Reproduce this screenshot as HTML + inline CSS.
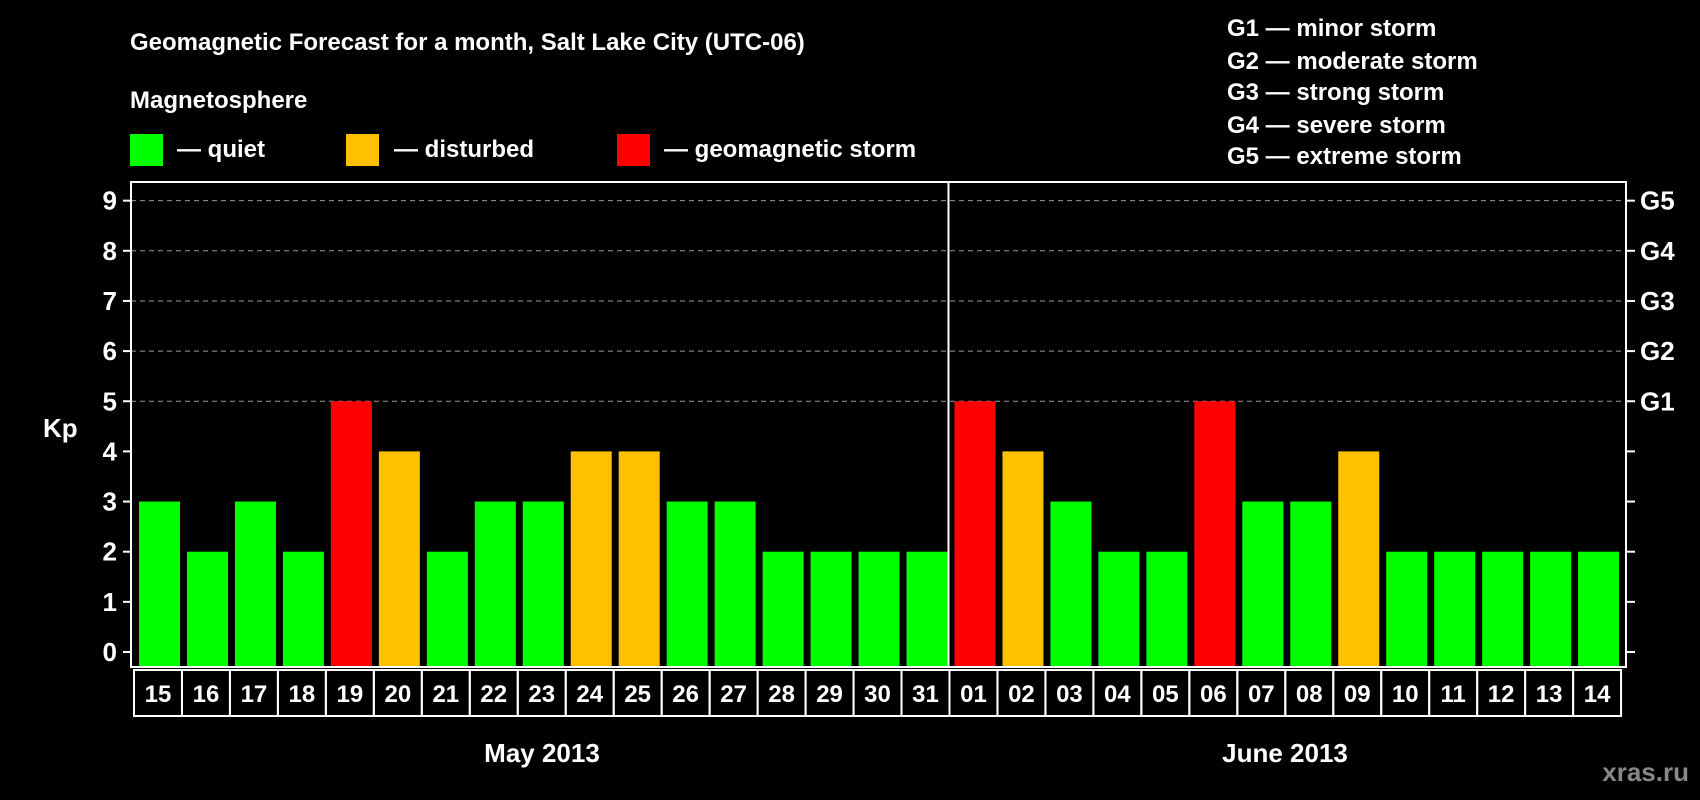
<!DOCTYPE html>
<html><head><meta charset="utf-8"><style>
html,body{margin:0;padding:0;background:#000;}
svg{display:block;font-family:"Liberation Sans",sans-serif;font-weight:bold;}
</style></head><body>
<svg id="chart" width="1700" height="800" viewBox="0 0 1700 800">
<rect x="0" y="0" width="1700" height="800" fill="#000"/>
<text x="130" y="50" fill="#fff" font-size="24">Geomagnetic Forecast for a month, Salt Lake City (UTC-06)</text>
<text x="130" y="108" fill="#fff" font-size="24">Magnetosphere</text>
<g><rect x="130" y="134" width="33" height="32" fill="#00ff00"/><text x="177" y="157" fill="#fff" font-size="24">— quiet</text></g>
<g><rect x="346" y="134" width="33" height="32" fill="#ffc000"/><text x="394" y="157" fill="#fff" font-size="24">— disturbed</text></g>
<g><rect x="617" y="134" width="33" height="32" fill="#ff0000"/><text x="664" y="157" fill="#fff" font-size="24">— geomagnetic storm</text></g>
<g font-size="24" fill="#fff">
<text x="1227" y="36">G1 — minor storm</text>
<text x="1227" y="69">G2 — moderate storm</text>
<text x="1227" y="100">G3 — strong storm</text>
<text x="1227" y="133">G4 — severe storm</text>
<text x="1227" y="164">G5 — extreme storm</text>
</g>
<g id="grid"></g>
<g id="bars"></g>
<rect x="131" y="182" width="1495" height="485" fill="none" stroke="#fff" stroke-width="2"/>
<g id="axes"></g>
<g id="xlabels"></g>
<text x="43" y="437" fill="#fff" font-size="26">Kp</text>
<text x="542" y="762" fill="#fff" font-size="26" text-anchor="middle">May 2013</text>
<text x="1285" y="762" fill="#fff" font-size="26" text-anchor="middle">June 2013</text>
<text x="1689" y="781" fill="#888" font-size="26" text-anchor="end">xras.ru</text>
</svg>
<script>
const days = ["15","16","17","18","19","20","21","22","23","24","25","26","27","28","29","30","31","01","02","03","04","05","06","07","08","09","10","11","12","13","14"];
const kpValues = [3,2,3,2,5,4,2,3,3,4,4,3,3,2,2,2,2,5,4,3,2,2,5,3,3,4,2,2,2,2,2];
const yTicks = [0,1,2,3,4,5,6,7,8,9];
const gLabels = ["G1","G2","G3","G4","G5"];
const gLevels = [5,6,7,8,9];
const monthBreakIndex = 17;

const NS = "http://www.w3.org/2000/svg";
const y = v => 652 - v * 50.15;
const x0 = 134, pitch = 47.97;
const xCell = i => x0 + i * pitch;
function mk(tag, attrs, parent) {
  const e = document.createElementNS(NS, tag);
  for (const k in attrs) e.setAttribute(k, attrs[k]);
  parent.appendChild(e);
  return e;
}
const grid = document.getElementById("grid");
const bars = document.getElementById("bars");
const axes = document.getElementById("axes");
const xl = document.getElementById("xlabels");

gLevels.forEach(v => {
  const l = mk("line", {x1:131, x2:1626, y1:y(v), y2:y(v), stroke:"#999", "stroke-width":1, "stroke-dasharray":"5,4"}, grid);
  
  
});
kpValues.forEach((v, i) => {
  const c = v >= 5 ? "#ff0000" : (v >= 4 ? "#ffc000" : "#00ff00");
  const r = mk("rect", {x:xCell(i)+5, y:y(v), width:41, height:y(0)-y(v)+14, fill:c}, bars);
  
  
});
const sep = mk("line", {x1:xCell(monthBreakIndex)-1, x2:xCell(monthBreakIndex)-1, y1:182, y2:667, stroke:"#fff", "stroke-width":2}, axes);


yTicks.forEach(v => {
  const t = mk("line", {x1:123, x2:131, y1:y(v), y2:y(v), stroke:"#fff", "stroke-width":2}, axes);
  
  
  const tr = mk("line", {x1:1626, x2:1635, y1:y(v), y2:y(v), stroke:"#fff", "stroke-width":2}, axes);
  
  
  const lb = mk("text", {x:117, y:y(v)+9, fill:"#fff", "font-size":26, "text-anchor":"end"}, axes);
  lb.textContent = v;
  
  
});
gLabels.forEach((g, i) => {
  const t = mk("text", {x:1640, y:y(gLevels[i])+9, fill:"#fff", "font-size":26}, axes);
  t.textContent = g;
  
  
});
days.forEach((d, i) => {
  const r = mk("rect", {x:xCell(i), y:670, width:pitch, height:46, fill:"none", stroke:"#fff", "stroke-width":2}, xl);
  
  
  const t = mk("text", {x:xCell(i)+pitch/2, y:702, fill:"#fff", "font-size":24, "text-anchor":"middle"}, xl);
  t.textContent = d;
  
  
});
</script>
</body></html>
